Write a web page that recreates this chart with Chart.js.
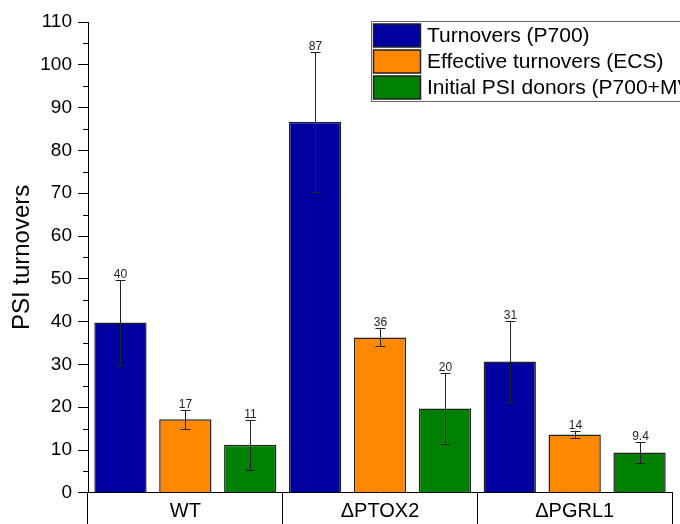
<!DOCTYPE html>
<html>
<head>
<meta charset="utf-8">
<script src="https://cdn.jsdelivr.net/npm/chart.js@4"></script>
<style>
  html, body { margin: 0; padding: 0; background: #ffffff; }
  #wrap { width: 680px; height: 524px; position: relative; overflow: hidden; }
</style>
</head>
<body>
<div id="wrap"><canvas id="c" width="680" height="524"></canvas></div>
<script>
// Strains
const strains = ['WT', '\u0394PTOX2', '\u0394PGRL1'];

// Series names
const seriesNames = ['Turnovers (P700)', 'Effective turnovers (ECS)', 'Initial PSI donors (P700+MV)'];

// Mean values per strain
const turnoversP700 = [39.8, 86.7, 30.7];
const effectiveECS = [17.2, 36.3, 13.6];
const initialDonors = [11.2, 19.7, 9.4];

// Standard deviations per strain
const errTurnoversP700 = [10.0, 16.4, 9.45];
const errEffectiveECS = [2.2, 2.1, 0.8];
const errInitialDonors = [5.9, 8.4, 2.5];

// Y axis range
const yMin = 0;
const yMax = 110;
const yStep = 10;
const yMinorStep = 5;

const FONT = '"Liberation Sans", Arial, Helvetica, sans-serif';
const colors = ['#0000A0', '#FF8800', '#008000'];
const errors = [errTurnoversP700, errEffectiveECS, errInitialDonors];

// Error bars, value labels and minor y ticks
const annotate = {
  id: 'annotate',
  afterDatasetsDraw(chart) {
    const ctx = chart.ctx;
    const y = chart.scales.y;
    ctx.save();
    chart.data.datasets.forEach((ds, di) => {
      const meta = chart.getDatasetMeta(di);
      meta.data.forEach((bar, i) => {
        const v = ds.data[i];
        const e = errors[di][i];
        const x = Math.round(bar.x) + 0.5;
        const yTop = Math.round(y.getPixelForValue(v + e)) + 0.5;
        const yBot = Math.round(y.getPixelForValue(v - e)) + 0.5;
        ctx.strokeStyle = '#222';
        ctx.lineWidth = 1;
        ctx.beginPath();
        ctx.moveTo(x, yTop); ctx.lineTo(x, yBot);
        ctx.moveTo(x - 5, yTop); ctx.lineTo(x + 5, yTop);
        ctx.moveTo(x - 5, yBot); ctx.lineTo(x + 5, yBot);
        ctx.stroke();
        ctx.fillStyle = '#222';
        ctx.font = '12px ' + FONT;
        ctx.textAlign = 'center';
        ctx.textBaseline = 'alphabetic';
        ctx.fillText(String(Number(v.toPrecision(2))), x, yTop - 3);
      });
    });
    // minor ticks on the y axis
    ctx.strokeStyle = '#000';
    ctx.lineWidth = 1;
    ctx.beginPath();
    for (let v = yMin + yMinorStep; v < yMax; v += yStep) {
      const py = Math.round(y.getPixelForValue(v)) + 0.5;
      ctx.moveTo(y.right - 5, py); ctx.lineTo(y.right, py);
    }
    ctx.stroke();
    ctx.restore();
  }
};

// Boxed legend in the upper right, running past the right edge
const boxLegend = {
  id: 'boxLegend',
  afterDraw(chart) {
    const ctx = chart.ctx;
    ctx.save();
    const bx = 371.5, by = 21.5, bw = 420, bh = 80;
    ctx.strokeStyle = '#666';
    ctx.lineWidth = 1;
    ctx.strokeRect(bx, by, bw, bh);
    chart.data.datasets.forEach((ds, i) => {
      const ry = 24 + i * 26;
      ctx.fillStyle = ds.backgroundColor;
      ctx.fillRect(373.5, ry, 47, 23);
      ctx.strokeStyle = '#222';
      ctx.lineWidth = 1.5;
      ctx.strokeRect(373.5, ry, 47, 23);
      ctx.fillStyle = '#000';
      ctx.font = '21px ' + FONT;
      ctx.textAlign = 'left';
      ctx.textBaseline = 'middle';
      ctx.fillText(ds.label, 427, ry + 12);
    });
    ctx.restore();
  }
};

const seriesValues = [turnoversP700, effectiveECS, initialDonors];

new Chart(document.getElementById('c'), {
  type: 'bar',
  data: {
    labels: strains,
    datasets: seriesNames.map((name, i) => ({
      label: name,
      data: seriesValues[i],
      backgroundColor: colors[i],
      borderColor: '#222',
      borderWidth: 1.5,
      categoryPercentage: 1.0,
      barPercentage: 0.806
    }))
  },
  options: {
    responsive: false,
    animation: false,
    devicePixelRatio: 1,
    layout: { padding: { top: 22, right: 8, left: 0, bottom: 0 } },
    plugins: {
      legend: { display: false },
      tooltip: { enabled: false }
    },
    scales: {
      x: {
        afterFit(s) { s.height = 31.2; },
        border: { display: true, color: '#000', width: 1 },
        grid: {
          offset: true,
          drawOnChartArea: false,
          drawTicks: true,
          tickLength: 31.2,
          color: '#000',
          lineWidth: 1
        },
        ticks: {
          color: '#000',
          font: { family: FONT, size: 20 },
          padding: -24.2,
          maxRotation: 0
        }
      },
      y: {
        min: yMin,
        max: yMax,
        afterFit(s) { s.width = 88; },
        border: { display: true, color: '#000', width: 1 },
        grid: {
          drawOnChartArea: false,
          drawTicks: true,
          tickLength: 10,
          color: '#000'
        },
        ticks: {
          stepSize: yStep,
          color: '#000',
          font: { family: FONT, size: 19 },
          padding: 6
        },
        title: {
          display: true,
          text: 'PSI turnovers',
          color: '#000',
          font: { family: FONT, size: 24 },
          padding: { top: 8, bottom: 0 }
        }
      }
    }
  },
  plugins: [annotate, boxLegend]
});
</script>
</body>
</html>
